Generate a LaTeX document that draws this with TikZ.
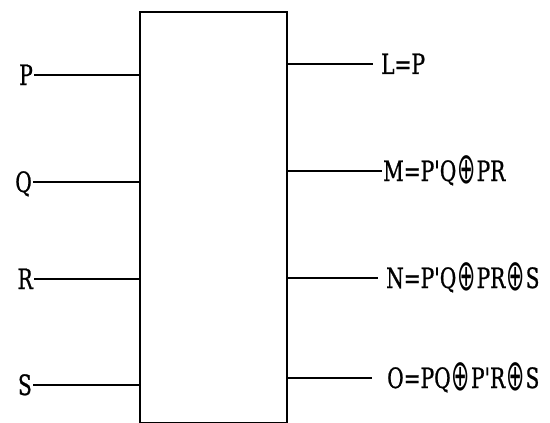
\documentclass[tikz,border=0pt]{standalone}
\usepackage{fontspec}
\setmainfont[FakeStretch=0.8,FakeBold=0.8,Ligatures=TeXOff]{DejaVu Serif Condensed}
\newfontfamily\symf{DejaVu Sans}
\newcommand{\xo}{\hspace{1pt}\raisebox{-2pt}{\scalebox{0.78}[1.55]{\symf ⊕}}\hspace{1pt}}
\newcommand{\pr}{{\char"0027}}
\begin{document}
\begin{tikzpicture}[x=1pt,y=-1pt,
  wire/.style={line width=1.7pt,black},
  lbl/.style={inner sep=0pt,font=\fontsize{28}{31}\selectfont,text height=20pt,text depth=0pt}]
\useasboundingbox (0,0) rectangle (550,423);
\node[draw,line width=1.6pt,minimum width=147pt,minimum height=411pt,inner sep=0pt,anchor=north west] (box) at (139,11) {};
% inputs
\node[lbl,anchor=east] (P) at (33,75) {P};
\node[lbl,anchor=east] (Q) at (32,182) {Q};
\node[lbl,anchor=east] (R) at (33,279) {R};
\node[lbl,anchor=east] (S) at (32,385) {S};
\foreach \n in {P,Q,R,S}{
  \draw[wire] ([xshift=1pt]\n.east) -- (box.west |- \n.east);
}
% outputs
\node[lbl,anchor=west] (L) at (381,64) {L=P};
\node[lbl,anchor=west] (M) at (383,171) {M=P\pr Q\xo PR};
\node[lbl,anchor=west] (N) at (386,278) {N=P\pr Q\xo PR\xo S};
\node[lbl,anchor=west] (O) at (387,378) {O=PQ\xo P\pr R\xo S};
\draw[wire] (box.east |- L.west) -- ([xshift=-8pt]L.west);
\draw[wire] (box.east |- M.west) -- ([xshift=-1pt]M.west);
\draw[wire] (box.east |- N.west) -- ([xshift=-8pt]N.west);
\draw[wire] (box.east |- O.west) -- ([xshift=-15pt]O.west);
\end{tikzpicture}
\end{document}
